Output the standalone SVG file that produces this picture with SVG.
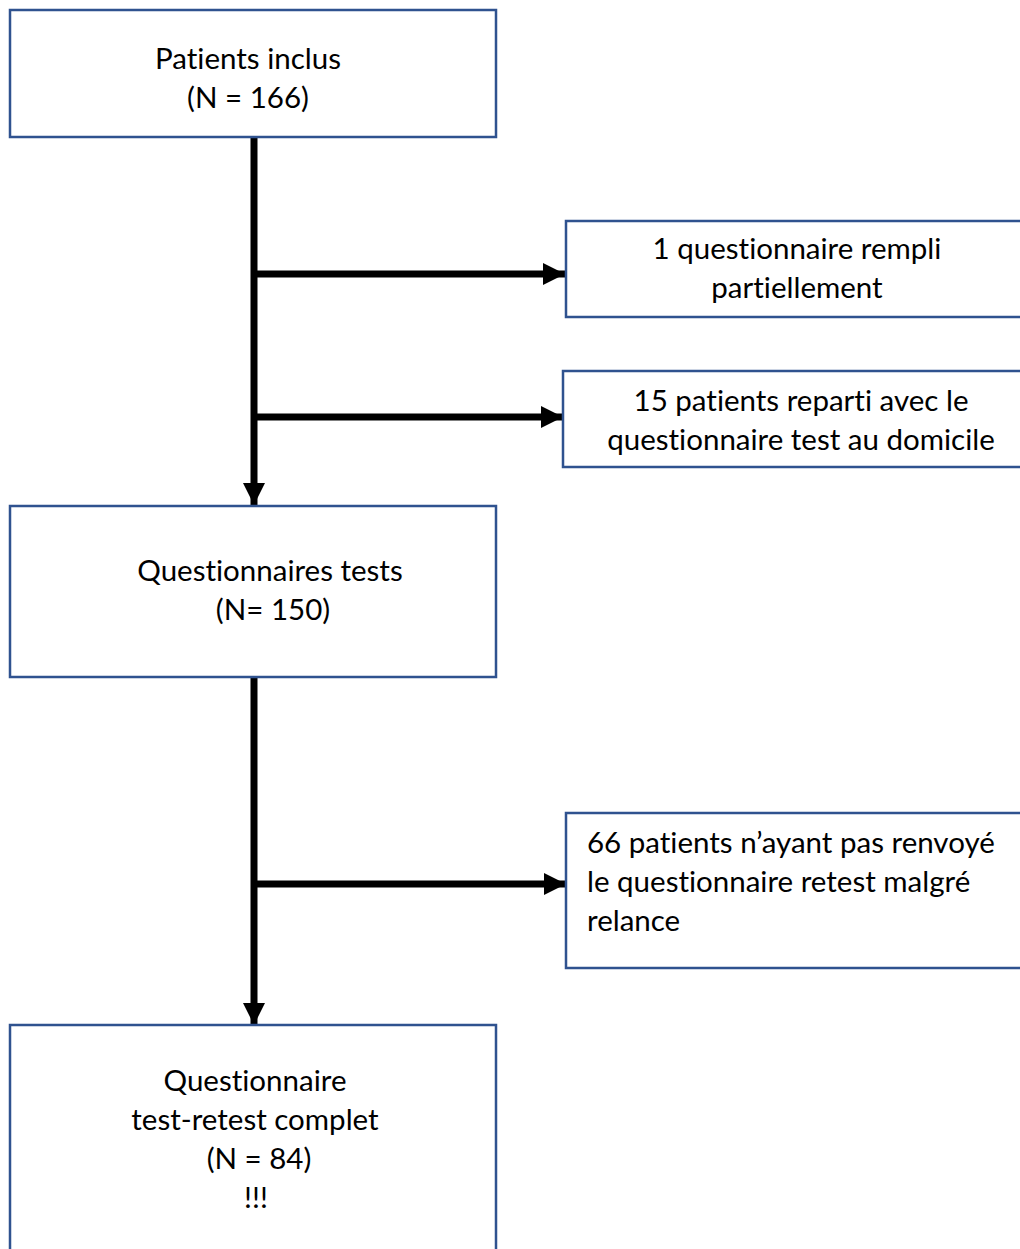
<svg xmlns="http://www.w3.org/2000/svg" width="1020" height="1249" viewBox="0 0 1020 1249">
<style>
.box{fill:#fff;stroke:#2F528F;stroke-width:2.5}
.t{font-family:Lato,"Liberation Sans",sans-serif;font-size:29.5px;fill:#000;font-variant-ligatures:none;font-feature-settings:"liga" 0}
.c{text-anchor:middle}
.ln{stroke:#000;stroke-width:7;fill:none}
</style>
<defs>
<marker id="ah" markerUnits="userSpaceOnUse" markerWidth="24" markerHeight="24" viewBox="0 0 24 24" refX="22" refY="12" orient="auto">
<path d="M0,1 L22,12 L0,23 Z" fill="#000"/>
</marker>
</defs>
<g id="connectors">
<line class="ln" x1="254" y1="137" x2="254" y2="505" marker-end="url(#ah)"/>
<line class="ln" x1="254" y1="274" x2="565" y2="274" marker-end="url(#ah)"/>
<line class="ln" x1="254" y1="417" x2="563" y2="417" marker-end="url(#ah)"/>
<line class="ln" x1="254" y1="677" x2="254" y2="1025" marker-end="url(#ah)"/>
<line class="ln" x1="254" y1="884" x2="566" y2="884" marker-end="url(#ah)"/>
</g>
<g id="n1">
<rect class="box" x="10" y="10" width="486" height="127"/>
<text class="t c" x="248" y="69">Patients inclus</text>
<text class="t c" x="248" y="108">(N = 166)</text>
</g>
<g id="n2">
<rect class="box" x="566" y="221" width="470" height="96"/>
<text class="t c" x="797" y="259">1 questionnaire rempli</text>
<text class="t c" x="797" y="298">partiellement</text>
</g>
<g id="n3">
<rect class="box" x="563" y="371" width="476" height="96"/>
<text class="t c" x="801" y="411">15 patients reparti avec le</text>
<text class="t c" x="801" y="450">questionnaire test au domicile</text>
</g>
<g id="n4">
<rect class="box" x="10" y="506" width="486" height="171"/>
<text class="t c" x="270" y="581">Questionnaires tests</text>
<text class="t c" x="273" y="620">(N= 150)</text>
</g>
<g id="n5">
<rect class="box" x="566" y="813" width="470" height="155"/>
<text class="t" x="587" y="853">66 patients n’ayant pas renvoyé</text>
<text class="t" x="587" y="892">le questionnaire retest malgré</text>
<text class="t" x="587" y="931">relance</text>
</g>
<g id="n6">
<rect class="box" x="10" y="1025" width="486" height="240"/>
<text class="t c" x="255" y="1091">Questionnaire</text>
<text class="t c" x="255" y="1130">test-retest complet</text>
<text class="t c" x="259" y="1169">(N = 84)</text>
<text class="t c" x="256" y="1208">!!!</text>
</g>
</svg>
